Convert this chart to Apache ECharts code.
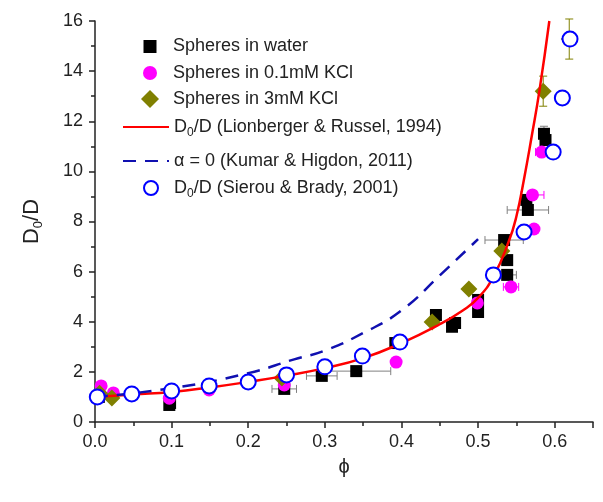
<!DOCTYPE html>
<html>
<head>
<meta charset="utf-8">
<script src="https://cdn.jsdelivr.net/npm/echarts@6/dist/echarts.min.js"></script>
<style>
  html, body { margin: 0; padding: 0; background: #fff; }
  #chart { width: 603px; height: 502px; }
</style>
</head>
<body>
<div id="chart"></div>
<script>
// measured points, [phi, D0/D]
const water = [
  [0.005, 1.0], [0.098, 0.76], [0.097, 0.68], [0.247, 1.32], [0.296, 1.84],
  [0.341, 2.03], [0.392, 3.15], [0.445, 4.27], [0.466, 3.8], [0.47, 3.95],
  [0.5, 4.87], [0.5, 4.39], [0.538, 5.87], [0.538, 6.46], [0.534, 7.26],
  [0.565, 8.46], [0.563, 8.86], [0.586, 11.5], [0.588, 11.25]
]
const kcl01 = [
  [0.008, 1.44], [0.024, 1.16], [0.097, 0.95], [0.149, 1.28], [0.247, 1.48],
  [0.393, 2.39], [0.499, 4.75], [0.543, 5.39], [0.573, 7.7], [0.571, 9.06],
  [0.583, 10.77]
]
const kcl3 = [
  [0.006, 1.15], [0.022, 0.96], [0.244, 1.76], [0.44, 3.99], [0.488, 5.31],
  [0.531, 6.82], [0.585, 13.2], [0.619, 15.28]
]
// Lionberger & Russel curve
const lionX = [0, 0.05, 0.1, 0.15, 0.2, 0.25, 0.3, 0.35, 0.4, 0.45, 0.48, 0.5, 0.52, 0.54, 0.55, 0.56, 0.57, 0.58, 0.593]
const lionY = [1.0, 1.1, 1.2, 1.38, 1.6, 1.85, 2.15, 2.55, 3.15, 3.9, 4.45, 4.95, 5.8, 7.2, 8.2, 9.7, 11.4, 13.2, 16.0]
// Kumar & Higdon, alpha = 0
const kumarX = [0, 0.1, 0.2, 0.26, 0.3, 0.35, 0.4, 0.45, 0.5]
const kumarY = [1.0, 1.35, 1.95, 2.5, 2.85, 3.55, 4.45, 5.85, 7.3]
// Sierou & Brady
const sierou = [
  [0.003, 1.0], [0.048, 1.12], [0.1, 1.24], [0.149, 1.44], [0.2, 1.6],
  [0.25, 1.88], [0.3, 2.2], [0.349, 2.63], [0.398, 3.19], [0.52, 5.87],
  [0.56, 7.58], [0.598, 10.77], [0.61, 12.93], [0.62, 15.28]
]
// error bars [x, y, xerr, yerr]
const errWater = [
  [0.247, 1.32, 0.016, 0], [0.341, 2.03, 0.045, 0], [0.296, 1.84, 0.02, 0],
  [0.534, 7.26, 0.025, 0], [0.565, 8.46, 0.027, 0], [0.538, 5.87, 0.012, 0],
  [0.586, 11.5, 0.004, 0.3]
]
const errKcl01 = [[0.543, 5.39, 0.01, 0], [0.571, 9.06, 0.015, 0], [0.583, 10.77, 0.008, 0]]
const errKcl3 = [[0.619, 15.28, 0, 0.8], [0.585, 13.2, 0, 0.6]]

const names = [
  'Spheres in water',
  'Spheres in 0.1mM KCl',
  'Spheres in 3mM KCl',
  'D0/D (Lionberger & Russel, 1994)',
  'α = 0 (Kumar & Higdon, 2011)',
  'D0/D (Sierou & Brady, 2001)'
]

const font = 'Liberation Sans, Arial, sans-serif'
const rich = {
  n: { fontSize: 18, fontFamily: font, color: '#222' },
  s: { fontSize: 12, fontFamily: font, color: '#222', padding: [12, 0, 0, 0] }
}
function sub(t) {
  return t.replace(/^D0\/D(.*)$/, '{n|D}{s|0}{n|/D$1}').replace(/^([^{].*)$/, '{n|$1}')
}

function errSeries(data, color) {
  return {
    type: 'custom',
    z: 1,
    silent: true,
    data: data,
    renderItem: function (params, api) {
      const x = api.value(0), y = api.value(1), dx = api.value(2), dy = api.value(3)
      const kids = []
      const st = { stroke: color, lineWidth: 1 }
      if (dx > 0) {
        const a = api.coord([x - dx, y]), b = api.coord([x + dx, y])
        kids.push({ type: 'line', shape: { x1: a[0], y1: a[1], x2: b[0], y2: b[1] }, style: st })
        kids.push({ type: 'line', shape: { x1: a[0], y1: a[1] - 4, x2: a[0], y2: a[1] + 4 }, style: st })
        kids.push({ type: 'line', shape: { x1: b[0], y1: b[1] - 4, x2: b[0], y2: b[1] + 4 }, style: st })
      }
      if (dy > 0) {
        const a = api.coord([x, y - dy]), b = api.coord([x, y + dy])
        kids.push({ type: 'line', shape: { x1: a[0], y1: a[1], x2: b[0], y2: b[1] }, style: st })
        kids.push({ type: 'line', shape: { x1: a[0] - 4, y1: a[1], x2: a[0] + 4, y2: a[1] }, style: st })
        kids.push({ type: 'line', shape: { x1: b[0] - 4, y1: b[1], x2: b[0] + 4, y2: b[1] }, style: st })
      }
      return { type: 'group', children: kids }
    }
  }
}

const rowTop = [32, 59, 87, 113, 147, 174]
const iconSize = [13, 14, 18, 14, 14, 14]
const legends = names.map(function (nm, i) {
  const isLine = i === 3 || i === 4
  const sz = iconSize[i]
  const lg = {
    data: [nm],
    left: isLine ? 117 : 145 - sz / 2,
    top: rowTop[i] - (sz - 14) / 2,
    itemWidth: isLine ? 46 : sz,
    itemHeight: sz,
    formatter: function (t) { return sub(t) },
    textStyle: { rich: rich, fontSize: 18, padding: [0, 0, 0, isLine ? 0 : 18 - sz / 2] },
    selectedMode: false
  }
  if (isLine) lg.itemStyle = { opacity: 0 }
  return lg
})

const chart = echarts.init(document.getElementById('chart'))
chart.setOption({
  animation: false,
  backgroundColor: '#fff',
  legend: legends,
  grid: { left: 95, right: 10, top: 21, bottom: 80 },
  xAxis: {
    type: 'value', min: 0, max: 0.65, interval: 0.1,
    name: 'ϕ', nameLocation: 'middle', nameGap: 35,
    nameTextStyle: { fontSize: 20, fontFamily: font, color: '#222' },
    axisLine: { lineStyle: { color: '#222', width: 1.5 } },
    axisTick: { inside: false, length: 6, lineStyle: { color: '#222', width: 1.5 } },
    minorTick: { show: true, splitNumber: 2, length: 4, lineStyle: { color: '#222', width: 1.5 } },
    splitLine: { show: false },
    axisLabel: {
      fontSize: 18, fontFamily: font, color: '#222', margin: 11,
      formatter: function (v) { return Math.abs(v * 10 - Math.round(v * 10)) < 1e-6 ? v.toFixed(1) : '' }
    }
  },
  yAxis: {
    type: 'value', min: 0, max: 16, interval: 2,
    name: '{n|D}{s|0}{n|/D}', nameLocation: 'middle', nameGap: 50,
    nameTextStyle: { rich: { n: { fontSize: 22, fontFamily: font, color: '#222' }, s: { fontSize: 13, fontFamily: font, color: '#222', padding: [14, 0, 0, 0] } } },
    axisLine: { show: true, lineStyle: { color: '#222', width: 1.5 } },
    axisTick: { inside: false, length: 6, lineStyle: { color: '#222', width: 1.5 } },
    minorTick: { show: true, splitNumber: 2, length: 4, lineStyle: { color: '#222', width: 1.5 } },
    splitLine: { show: false },
    axisLabel: { fontSize: 18, fontFamily: font, color: '#222', margin: 12 }
  },
  series: [
    errSeries(errWater, '#808080'),
    errSeries(errKcl01, '#ff00ff'),
    errSeries(errKcl3, '#808000'),
    {
      name: names[0], type: 'scatter', symbol: 'rect', symbolSize: 12, z: 2,
      itemStyle: { color: '#000', opacity: 1 }, data: water
    },
    {
      name: names[1], type: 'scatter', symbol: 'circle', symbolSize: 13, z: 2,
      itemStyle: { color: '#ff00ff', opacity: 1 }, data: kcl01
    },
    {
      name: names[2], type: 'scatter', symbol: 'diamond', symbolSize: 17, z: 2,
      itemStyle: { color: '#808000', opacity: 1 }, data: kcl3
    },
    {
      name: names[3], type: 'line', smooth: true, symbol: 'none', z: 3,
      lineStyle: { color: '#ff0000', width: 2.5 }, itemStyle: { color: '#ff0000' },
      data: lionX.map(function (x, i) { return [x, lionY[i]] })
    },
    {
      name: names[4], type: 'line', smooth: true, symbol: 'none', z: 3,
      lineStyle: { color: '#1010b0', width: 2.5, type: [13, 9] }, itemStyle: { color: '#1010b0' },
      data: kumarX.map(function (x, i) { return [x, kumarY[i]] })
    },
    {
      name: names[5], type: 'scatter', symbol: 'emptyCircle', symbolSize: 15, z: 4,
      itemStyle: { color: '#0000ff', borderColor: '#0000ff', borderWidth: 2.5, opacity: 1 }, data: sierou
    }
  ]
})
</script>
</body>
</html>
